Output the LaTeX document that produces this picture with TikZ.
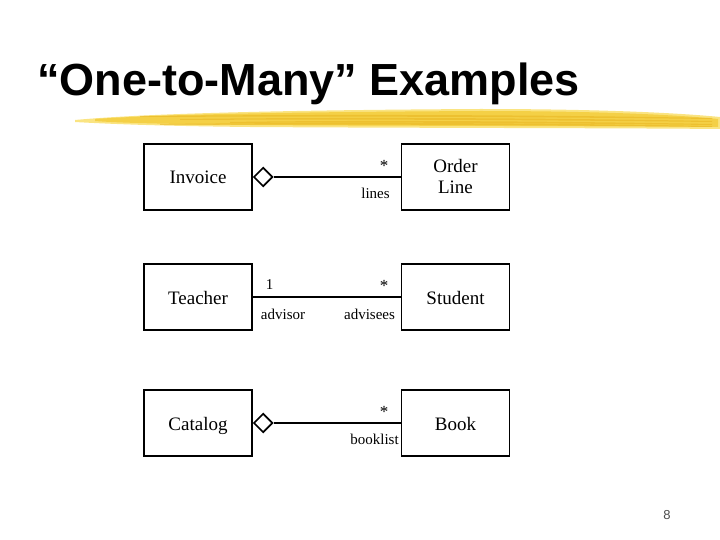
\documentclass[tikz,border=0pt]{standalone}
\usepackage{fontspec}
\setmainfont{Liberation Serif}
\newfontfamily\titlefont{Liberation Sans}
\usetikzlibrary{shapes.geometric}
\definecolor{brush}{RGB}{244,208,70}
\definecolor{brushdark}{RGB}{232,180,30}
\definecolor{brushlight}{RGB}{250,228,130}
\tikzset{classbox/.style={draw, line width=1.8pt, minimum width=108pt, minimum height=66pt, inner sep=2pt, align=center, font=\fontsize{19}{21}\selectfont},
  oneline/.style={classbox, text height=14pt, text depth=0pt},
  assoc/.style={line width=1.8pt},
  aggr/.style={draw, diamond, line width=1.6pt, fill=white, inner sep=0pt, minimum width=19pt, minimum height=19pt, anchor=west},
  rolelabel/.style={inner sep=0pt, font=\fontsize{15}{17}\selectfont},
  multlabel/.style={inner sep=0pt, font=\fontsize{17}{19}\selectfont}}

\begin{document}
\begin{tikzpicture}[x=1pt, y=-1pt]
\useasboundingbox (0,0) rectangle (720,540);
% title and brush stroke
\node[anchor=base west, inner sep=0pt, font=\titlefont\bfseries\fontsize{45}{47}\selectfont] (title) at (37,96) {“One-to-Many” Examples};
\fill[brushlight] (75,120) .. controls (150,113) and (300,110) .. (480,109) .. controls (600,109) and (680,113) .. (720,117) -- (720,129) .. controls (620,128) and (400,128) .. (250,127) .. controls (160,126) and (110,124) .. (75,122) -- cycle;
\fill[brush] (95,119) .. controls (170,114) and (300,112) .. (480,111) .. controls (600,111) and (680,115) .. (718,119) -- (718,127) .. controls (620,126) and (400,126) .. (250,125) .. controls (170,124) and (120,123) .. (95,121) -- cycle;
\foreach \ya/\yb/\xs in {116/117/140, 119/120/180, 122/123/230, 124/125/160}{
  \fill[brushdark, opacity=0.55] (\xs,\ya) .. controls (350,\ya-2) and (550,\ya-1) .. (712,\ya+2) -- (712,\yb+2) .. controls (550,\yb) and (350,\yb-1) .. (\xs,\yb) -- cycle;
}
% classes
\node[oneline] (invoice) at (198,177) {Invoice};
\node[classbox] (orderline) at (455.5,177) {Order\\Line};
\node[oneline] (teacher) at (198,297) {Teacher};
\node[oneline] (student) at (455.5,297) {Student};
\node[oneline] (catalog) at (198,423) {Catalog};
\node[oneline] (book) at (455.5,423) {Book};
% associations
\node[aggr] (invdia) at (invoice.east) {};
\draw[assoc] (invdia.east) -- (orderline.west);
\draw[assoc] (teacher.east) -- (student.west);
\node[aggr] (catdia) at (catalog.east) {};
\draw[assoc] (catdia.east) -- (book.west);
% multiplicities and roles
\node[multlabel] (linesmult) at (384,166) {*};
\node[rolelabel] (linesrole) at (375.5,193) {lines};
\node[rolelabel] (advisormult) at (269.5,285) {1};
\node[multlabel] (adviseesmult) at (384,286) {*};
\node[rolelabel] (advisorrole) at (283,314) {advisor};
\node[rolelabel] (adviseesrole) at (369.5,314) {advisees};
\node[multlabel] (booksmult) at (384,412) {*};
\node[rolelabel] (booksrole) at (374.5,439) {booklist};
% page number
\node[text=black!70, font=\titlefont\fontsize{13}{15}\selectfont] (pagenum) at (667,515) {8};
\end{tikzpicture}
\end{document}
